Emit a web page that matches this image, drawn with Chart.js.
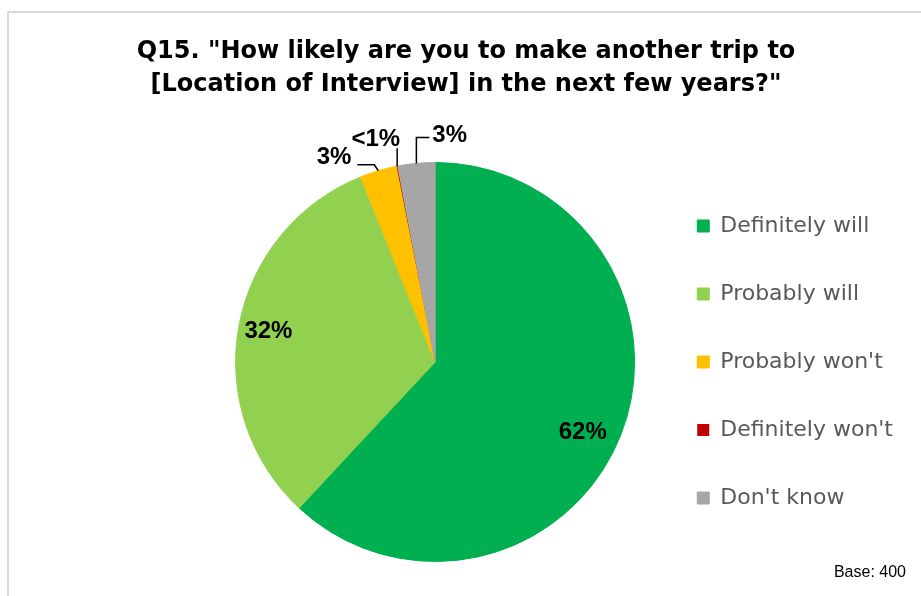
<!DOCTYPE html>
<html>
<head>
<meta charset="utf-8">
<script src="https://cdn.jsdelivr.net/npm/chart.js@4.4.1/dist/chart.umd.min.js"></script>
<style>
  html, body { margin: 0; padding: 0; background: #fff; overflow: hidden; }
  #wrap { position: relative; width: 921px; height: 596px; }
  #frame {
    position: absolute; left: 7px; top: 11px; width: 940px; height: 620px;
    border: 2px solid #D9D9D9; box-sizing: border-box;
  }
  #title {
    position: absolute; left: 0; top: 34px; width: 932px;
    text-align: center; font: bold 24px/32.5px "DejaVu Sans", Verdana, sans-serif;
    color: #000;
  }
  #base {
    position: absolute; right: 15px; top: 563px;
    font: 16px "Liberation Sans", Arial, sans-serif; color: #000;
  }
  canvas { position: absolute; left: 0; top: 0; }
</style>
</head>
<body>
<div id="wrap">
  <div id="frame"></div>
  <canvas id="chart" width="921" height="596"></canvas>
  <div id="title">Q15. "How likely are you to make another trip to<br>[Location of Interview] in the next few years?"</div>
  <div id="base">Base: 400</div>
</div>
<script>
// answers, share of respondents (%)
const categories = ['Definitely will', 'Probably will', "Probably won't", "Definitely won't", "Don't know"];
const shares = [62, 32, 3, 0.1, 3];
const sliceColors = ['#00B050', '#92D050', '#FFC000', '#C00000', '#A6A6A6'];

function pctText(v) {
    return v < 1 ? '<1%' : Math.round(v) + '%';
}

// big slices: label inside, at a fraction of the radius (turn = small angle nudge)
const insideSpots = {
    0: { r: 0.82, turn: 0.07 },
    1: { r: 0.85, turn: 0 }
};

// small slices get their label outside with a leader line
// path points and text spot are offsets from the slice's outer edge
const leaders = {
    2: { path: [[-4, -6], [-21, -6]], text: [-27, -13], align: 'right' },
    3: { path: [[0, -18]], text: [3, -27], align: 'right' },
    4: { path: [[0, -26], [13, -26]], text: [16, -28], align: 'left' }
};

const sliceLabels = {
    id: 'sliceLabels',
    afterDatasetsDraw(chart) {
        const ctx = chart.ctx;
        const meta = chart.getDatasetMeta(0);
        ctx.save();
        ctx.font = 'bold 24px "Liberation Sans", Arial, sans-serif';
        ctx.fillStyle = '#000';
        ctx.strokeStyle = '#000';
        ctx.lineWidth = 1.5;
        ctx.textBaseline = 'middle';
        meta.data.forEach((arc, i) => {
            const mid = (arc.startAngle + arc.endAngle) / 2;
            const text = pctText(shares[i]);
            const spot = insideSpots[i];
            if (spot) {
                const r = arc.outerRadius * spot.r;
                const a = mid + spot.turn;
                ctx.textAlign = 'center';
                ctx.fillText(text, arc.x + Math.cos(a) * r, arc.y + Math.sin(a) * r);
                return;
            }
            const ld = leaders[i];
            const ex = arc.x + Math.cos(mid) * arc.outerRadius;
            const ey = arc.y + Math.sin(mid) * arc.outerRadius;
            ctx.beginPath();
            ctx.moveTo(ex, ey);
            ld.path.forEach(p => ctx.lineTo(ex + p[0], ey + p[1]));
            ctx.stroke();
            ctx.textAlign = ld.align;
            ctx.fillText(text, ex + ld.text[0], ey + ld.text[1]);
        });
        ctx.restore();
    }
};

const config = {
    type: 'pie',
    data: {
        labels: categories,
        datasets: [{
            data: shares,
            backgroundColor: sliceColors,
            borderColor: sliceColors,
            borderWidth: [1, 1, 1, 0, 1]
        }]
    },
    options: {
        responsive: false,
        animation: false,
        layout: {
            padding: { left: 219, right: 18, top: 162, bottom: 34 }
        },
        plugins: {
            tooltip: { enabled: false },
            legend: {
                position: 'right',
                labels: {
                    boxWidth: 12,
                    boxHeight: 12,
                    padding: 46,
                    color: '#595959',
                    font: { family: '"DejaVu Sans", Verdana, sans-serif', size: 22 }
                }
            }
        }
    },
    plugins: [sliceLabels]
};

const myChart = new Chart(document.getElementById('chart'), config);
</script>
</body>
</html>
